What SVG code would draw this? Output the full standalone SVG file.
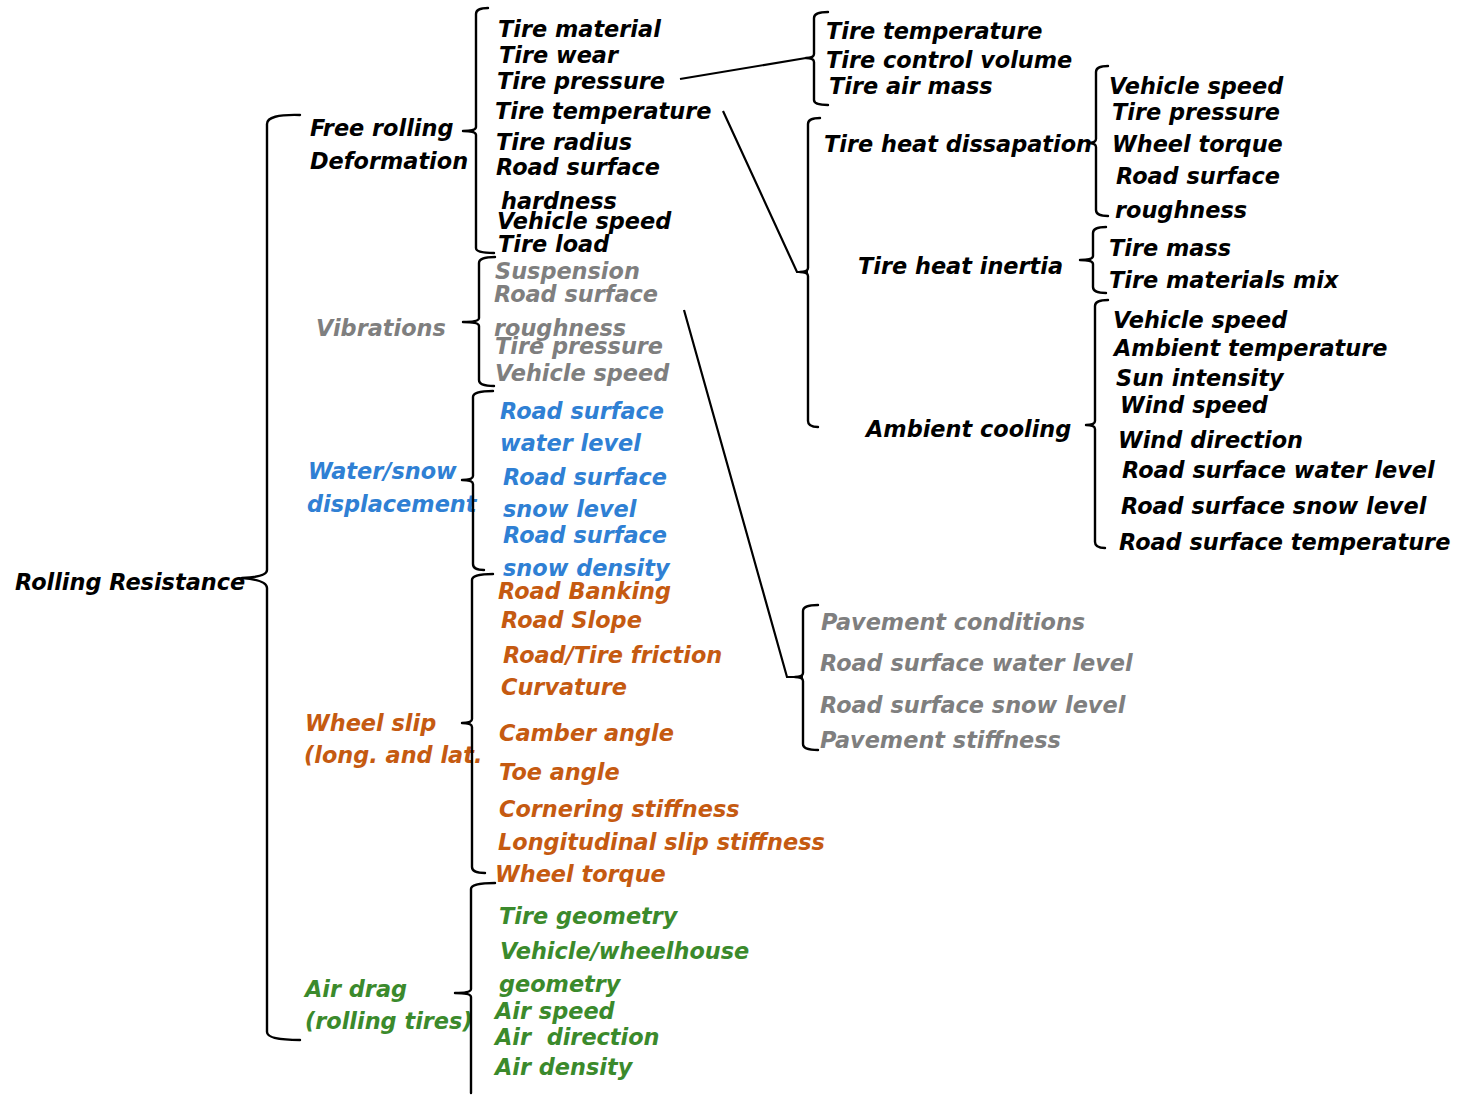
<svg xmlns="http://www.w3.org/2000/svg" width="1458" height="1095" viewBox="0 0 1458 1095">
<style>
text{font-family:"DejaVu Sans","Open Sans",sans-serif;font-weight:700;font-style:italic;font-size:22.4px}
.k{fill:#000}.g{fill:#7f7f7f}.b{fill:#2f80d4}.o{fill:#c55a11}.gr{fill:#3b8a2c}
.br{fill:none;stroke:#000;stroke-width:2.4;stroke-linejoin:round;stroke-linecap:round}
.ln{fill:none;stroke:#000;stroke-width:2.2}
</style>
<rect width="1458" height="1095" fill="#fff"/>
<g id="connectors">
<path class="ln" d="M680,79 L806,58"/>
<path class="ln" d="M723,111 L797,272 L808,272"/>
<path class="ln" d="M684,310 L787,677 L803,677"/>
</g>
<g id="rolling-resistance">
<text class="k" x="15" y="590">Rolling Resistance</text>
<path class="br" d="M300,115 Q267,114 267,124 L267,570 Q267,577 242,578 Q267,580 267,588 L267,1032 Q267,1040 300,1040"/>
</g>
<g id="free-rolling">
<text class="k" x="310" y="136">Free rolling</text>
<text class="k" x="310" y="169">Deformation</text>
<path class="br" d="M488,8 Q476,8 476,14 L476,127 Q476,131 463,131 Q476,131 476,135 L476,248 Q476,253 494,253"/>
<text class="k" x="498" y="37">Tire material</text>
<text class="k" x="499" y="63">Tire wear</text>
<text class="k" x="497" y="89">Tire pressure</text>
<text class="k" x="495" y="119">Tire temperature</text>
<text class="k" x="496" y="150">Tire radius</text>
<text class="k" x="496" y="175">Road surface</text>
<text class="k" x="501" y="209">hardness</text>
<text class="k" x="497" y="229">Vehicle speed</text>
<text class="k" x="498" y="252">Tire load</text>
</g>
<g id="vibrations">
<text class="g" x="316" y="336">Vibrations</text>
<path class="br" d="M495,257 Q479,257 479,263 L479,318 Q479,322 463,322 Q479,322 479,326 L479,380 Q479,386 494,386"/>
<text class="g" x="495" y="279">Suspension</text>
<text class="g" x="494" y="302">Road surface</text>
<text class="g" x="494" y="336">roughness</text>
<text class="g" x="495" y="354">Tire pressure</text>
<text class="g" x="495" y="381">Vehicle speed</text>
</g>
<g id="water-snow">
<text class="b" x="308" y="479">Water/snow</text>
<text class="b" x="307" y="512">displacement</text>
<path class="br" d="M493,391 Q473,391 473,397 L473,476 Q473,480 462,480 Q473,480 473,484 L473,564 Q473,570 484,570"/>
<text class="b" x="500" y="419">Road surface</text>
<text class="b" x="500" y="451">water level</text>
<text class="b" x="503" y="485">Road surface</text>
<text class="b" x="503" y="517">snow level</text>
<text class="b" x="503" y="543">Road surface</text>
<text class="b" x="503" y="576">snow density</text>
</g>
<g id="wheel-slip">
<text class="o" x="305" y="731">Wheel slip</text>
<text class="o" x="304" y="763">(long. and lat.</text>
<path class="br" d="M493,574 Q472,574 472,580 L472,719 Q472,723 462,723 Q472,723 472,727 L472,867 Q472,873 485,873"/>
<text class="o" x="498" y="599">Road Banking</text>
<text class="o" x="501" y="628">Road Slope</text>
<text class="o" x="503" y="663">Road/Tire friction</text>
<text class="o" x="501" y="695">Curvature</text>
<text class="o" x="499" y="741">Camber angle</text>
<text class="o" x="499" y="780">Toe angle</text>
<text class="o" x="499" y="817">Cornering stiffness</text>
<text class="o" x="498" y="850">Longitudinal slip stiffness</text>
<text class="o" x="495" y="882">Wheel torque</text>
</g>
<g id="air-drag">
<text class="gr" x="305" y="997">Air drag</text>
<text class="gr" x="305" y="1029">(rolling tires)</text>
<path class="br" d="M495,883 Q471,883 471,889 L471,989 Q471,993 455,993 Q471,993 471,997 L471,1093"/>
<text class="gr" x="499" y="924">Tire geometry</text>
<text class="gr" x="500" y="959">Vehicle/wheelhouse</text>
<text class="gr" x="499" y="992">geometry</text>
<text class="gr" x="495" y="1019">Air speed</text>
<text class="gr" x="495" y="1045" xml:space="preserve">Air  direction</text>
<text class="gr" x="495" y="1075">Air density</text>
</g>
<g id="tire-air">
<path class="br" d="M828,12 Q814,12 814,18 L814,54 Q814,58 806,58 Q814,58 814,62 L814,100 Q814,105 828,105"/>
<text class="k" x="826" y="39">Tire temperature</text>
<text class="k" x="826" y="68">Tire control volume</text>
<text class="k" x="829" y="94">Tire air mass</text>
</g>
<g id="tire-heat">
<path class="br" d="M820,118 Q808,118 808,124 L808,268 Q808,272 800,272 Q808,272 808,276 L808,421 Q808,427 818,427"/>
<text class="k" x="824" y="152">Tire heat dissapation</text>
<text class="k" x="858" y="274">Tire heat inertia</text>
<text class="k" x="866" y="437">Ambient cooling</text>
</g>
<g id="heat-dissipation">
<path class="br" d="M1108,66 Q1096,66 1096,72 L1096,139 Q1096,143 1088,143 Q1096,143 1096,147 L1096,210 Q1096,216 1108,216"/>
<text class="k" x="1109" y="94">Vehicle speed</text>
<text class="k" x="1112" y="120">Tire pressure</text>
<text class="k" x="1112" y="152">Wheel torque</text>
<text class="k" x="1116" y="184">Road surface</text>
<text class="k" x="1115" y="218">roughness</text>
</g>
<g id="heat-inertia">
<path class="br" d="M1106,227 Q1093,227 1093,233 L1093,256 Q1093,260 1080,260 Q1093,260 1093,264 L1093,287 Q1093,293 1106,293"/>
<text class="k" x="1109" y="256">Tire mass</text>
<text class="k" x="1109" y="288">Tire materials mix</text>
</g>
<g id="ambient-cooling">
<path class="br" d="M1108,300 Q1095,300 1095,306 L1095,421 Q1095,425 1086,425 Q1095,425 1095,429 L1095,542 Q1095,548 1105,548"/>
<text class="k" x="1113" y="328">Vehicle speed</text>
<text class="k" x="1114" y="356">Ambient temperature</text>
<text class="k" x="1116" y="386">Sun intensity</text>
<text class="k" x="1120" y="413">Wind speed</text>
<text class="k" x="1118" y="448">Wind direction</text>
<text class="k" x="1122" y="478">Road surface water level</text>
<text class="k" x="1121" y="514">Road surface snow level</text>
<text class="k" x="1119" y="550">Road surface temperature</text>
</g>
<g id="pavement">
<path class="br" d="M818,605 Q803,605 803,611 L803,673 Q803,677 795,677 Q803,677 803,681 L803,744 Q803,750 818,750"/>
<text class="g" x="821" y="630">Pavement conditions</text>
<text class="g" x="820" y="671">Road surface water level</text>
<text class="g" x="820" y="713">Road surface snow level</text>
<text class="g" x="820" y="748">Pavement stiffness</text>
</g>
</svg>
